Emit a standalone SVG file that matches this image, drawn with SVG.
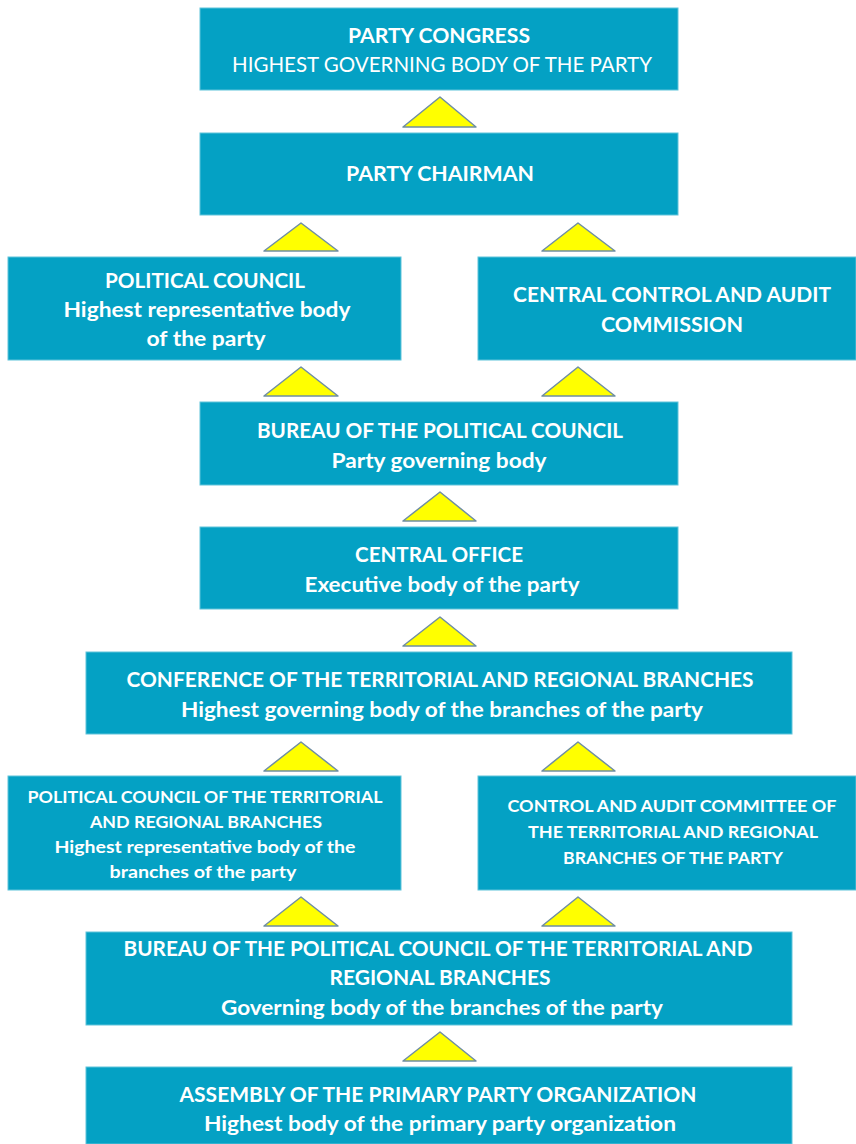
<svg xmlns="http://www.w3.org/2000/svg" width="856" height="1144" viewBox="0 0 856 1144">
<style>
.box{fill:#04a1c4;stroke:#5fc3da;stroke-width:1}
.tri{fill:#ffff00;stroke:#6f8ea3;stroke-width:1.5;stroke-linejoin:round}
text{font-family:Lato,"Open Sans","Liberation Sans",sans-serif;fill:#ffffff;text-anchor:middle;font-weight:bold;font-size:21px}
.n{font-weight:normal}
.s{font-size:17px}
</style>
<rect width="856" height="1144" fill="#ffffff"/>
<g id="connectors">
<polygon class="tri" points="440,97 403,127 476,127"/>
<polygon class="tri" points="301,223 264,251 338,251"/>
<polygon class="tri" points="578,223 542,251 615,251"/>
<polygon class="tri" points="301,367 264,396 338,396"/>
<polygon class="tri" points="578,367 542,396 615,396"/>
<polygon class="tri" points="440,492 403,521 476,521"/>
<polygon class="tri" points="440,617 403,646 476,646"/>
<polygon class="tri" points="301,742 264,771 338,771"/>
<polygon class="tri" points="578,742 542,771 615,771"/>
<polygon class="tri" points="301,897 264,926 338,926"/>
<polygon class="tri" points="578,897 542,926 615,926"/>
<polygon class="tri" points="440,1032 403,1061 476,1061"/>
</g>
<g id="party-congress">
<rect class="box" x="200" y="8" width="478" height="82"/>
<text x="439" y="43" textLength="182" lengthAdjust="spacingAndGlyphs">PARTY CONGRESS</text>
<text class="n" x="442" y="72" textLength="420" lengthAdjust="spacingAndGlyphs">HIGHEST GOVERNING BODY OF THE PARTY</text>
</g>
<g id="party-chairman">
<rect class="box" x="200" y="133" width="478" height="82"/>
<text x="440" y="181" textLength="188" lengthAdjust="spacingAndGlyphs">PARTY CHAIRMAN</text>
</g>
<g id="political-council">
<rect class="box" x="8" y="257" width="393" height="103"/>
<text x="205" y="288" textLength="200" lengthAdjust="spacingAndGlyphs">POLITICAL COUNCIL</text>
<text x="207" y="317" textLength="287" lengthAdjust="spacingAndGlyphs">Highest representative body</text>
<text x="206" y="346" textLength="119" lengthAdjust="spacingAndGlyphs">of the party</text>
</g>
<g id="central-control">
<rect class="box" x="478" y="257" width="378" height="103"/>
<text x="672" y="302" textLength="318" lengthAdjust="spacingAndGlyphs">CENTRAL CONTROL AND AUDIT</text>
<text x="672" y="332" textLength="142" lengthAdjust="spacingAndGlyphs">COMMISSION</text>
</g>
<g id="bureau">
<rect class="box" x="200" y="402" width="478" height="83"/>
<text x="440" y="438" textLength="366" lengthAdjust="spacingAndGlyphs">BUREAU OF THE POLITICAL COUNCIL</text>
<text x="439" y="468" textLength="215" lengthAdjust="spacingAndGlyphs">Party governing body</text>
</g>
<g id="central-office">
<rect class="box" x="200" y="527" width="478" height="82"/>
<text x="439" y="562" textLength="168" lengthAdjust="spacingAndGlyphs">CENTRAL OFFICE</text>
<text x="442" y="592" textLength="275" lengthAdjust="spacingAndGlyphs">Executive body of the party</text>
</g>
<g id="conference">
<rect class="box" x="86" y="652" width="706" height="82"/>
<text x="440" y="687" textLength="627" lengthAdjust="spacingAndGlyphs">CONFERENCE OF THE TERRITORIAL AND REGIONAL BRANCHES</text>
<text x="442" y="717" textLength="522" lengthAdjust="spacingAndGlyphs">Highest governing body of the branches of the party</text>
</g>
<g id="political-council-branches">
<rect class="box" x="8" y="776" width="393" height="114"/>
<text class="s" x="205" y="803" textLength="355" lengthAdjust="spacingAndGlyphs">POLITICAL COUNCIL OF THE TERRITORIAL</text>
<text class="s" x="206" y="828" textLength="232" lengthAdjust="spacingAndGlyphs">AND REGIONAL BRANCHES</text>
<text class="s" x="205" y="853" textLength="301" lengthAdjust="spacingAndGlyphs">Highest representative body of the</text>
<text class="s" x="203" y="878" textLength="187" lengthAdjust="spacingAndGlyphs">branches of the party</text>
</g>
<g id="control-audit-committee">
<rect class="box" x="478" y="776" width="378" height="114"/>
<text class="s" x="672" y="812" textLength="329" lengthAdjust="spacingAndGlyphs">CONTROL AND AUDIT COMMITTEE OF</text>
<text class="s" x="673" y="838" textLength="290" lengthAdjust="spacingAndGlyphs">THE TERRITORIAL AND REGIONAL</text>
<text class="s" x="673" y="864" textLength="220" lengthAdjust="spacingAndGlyphs">BRANCHES OF THE PARTY</text>
</g>
<g id="bureau-branches">
<rect class="box" x="86" y="932" width="706" height="93"/>
<text x="438" y="956" textLength="629" lengthAdjust="spacingAndGlyphs">BUREAU OF THE POLITICAL COUNCIL OF THE TERRITORIAL AND</text>
<text x="440" y="985" textLength="221" lengthAdjust="spacingAndGlyphs">REGIONAL BRANCHES</text>
<text x="442" y="1015" textLength="442" lengthAdjust="spacingAndGlyphs">Governing body of the branches of the party</text>
</g>
<g id="assembly">
<rect class="box" x="86" y="1067" width="706" height="77"/>
<text x="438" y="1102" textLength="517" lengthAdjust="spacingAndGlyphs">ASSEMBLY OF THE PRIMARY PARTY ORGANIZATION</text>
<text x="440" y="1131" textLength="472" lengthAdjust="spacingAndGlyphs">Highest body of the primary party organization</text>
</g>
</svg>
